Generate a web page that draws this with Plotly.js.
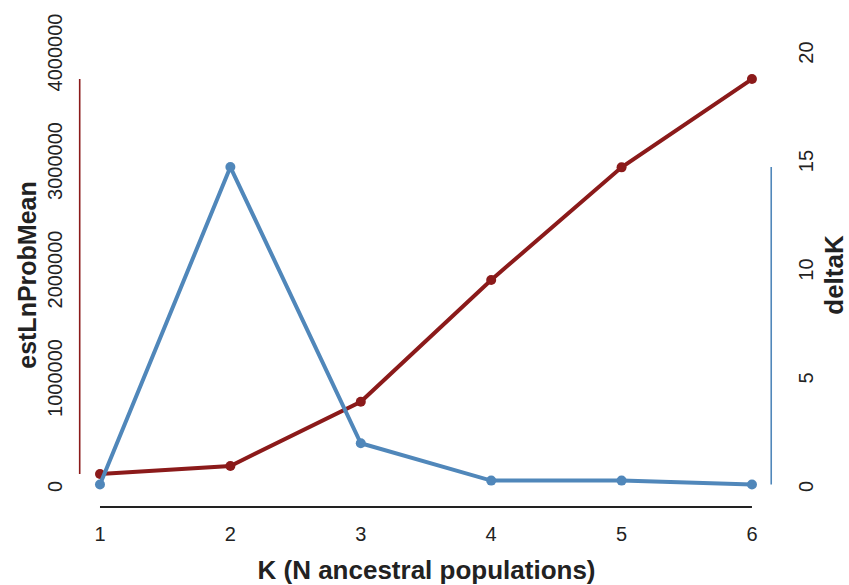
<!DOCTYPE html>
<html>
<head>
<meta charset="utf-8">
<script src="https://cdn.plot.ly/plotly-3.0.1.min.js"></script>
<style>
  html, body { margin: 0; padding: 0; background: #ffffff; }
  #chart { width: 849px; height: 585px; }
</style>
</head>
<body>
<div id="chart"></div>
<script>
// ---- data ----
var K = [1, 2, 3, 4, 5, 6];
var estLnProbMean = [97000, 171000, 763000, 1885000, 2923000, 3737000];
var deltaK = [0, 14.63, 1.90, 0.18, 0.18, 0];
var leftTicks = [0, 1000000, 2000000, 3000000, 4000000];
var rightTicks = [0, 5, 10, 15, 20];
var xTicks = [1, 2, 3, 4, 5, 6];

var RED = '#8B1A1A';
var BLUE = '#5087BA';
var FONT = 'Liberation Sans, Arial, Helvetica, sans-serif';

var traces = [
  {
    x: K, y: estLnProbMean, yaxis: 'y', type: 'scatter', mode: 'lines+markers',
    line: {color: RED, width: 4}, marker: {color: RED, size: 10},
    hoverinfo: 'x+y', showlegend: false
  },
  {
    x: K, y: deltaK, yaxis: 'y2', type: 'scatter', mode: 'lines+markers',
    line: {color: BLUE, width: 4}, marker: {color: BLUE, size: 10},
    hoverinfo: 'x+y', showlegend: false
  }
];

var W = 849, H = 585;
var mL = 79, mR = 75, mT = 40, mB = 75;
var plotH = H - mT - mB;

var layout = {
  width: W, height: H,
  margin: {l: mL, r: mR, t: mT, b: mB, pad: 0},
  paper_bgcolor: '#ffffff', plot_bgcolor: '#ffffff',
  font: {family: FONT, color: '#222222', size: 20},
  xaxis: {
    range: [0.839, 6.169],
    tickvals: xTicks, ticktext: xTicks.map(String),
    showgrid: false, zeroline: false, showline: false, ticks: '',
    ticklabelstandoff: 10,
    tickfont: {family: FONT, size: 20, color: '#222222'},
    title: {text: 'K (N ancestral populations)', standoff: 16,
            font: {family: FONT, size: 26, color: '#222222', weight: 'bold'}}
  },
  yaxis: {
    range: [-235000, 4096800],
    tickvals: leftTicks, tickformat: 'd', tickangle: -90,
    showgrid: false, zeroline: false, showline: false, ticks: '',
    ticklabelstandoff: 12, ticklabelshift: 5,
    tickfont: {family: FONT, size: 20, color: '#222222'},
    title: {text: 'estLnProbMean', standoff: 0,
            font: {family: FONT, size: 25, color: '#222222', weight: 'bold'}}
  },
  yaxis2: {
    range: [-1.175, 20.484],
    overlaying: 'y', side: 'right',
    tickvals: rightTicks, tickangle: -90,
    showgrid: false, zeroline: false, showline: false, ticks: '',
    ticklabelstandoff: 18, ticklabelshift: 5,
    tickfont: {family: FONT, size: 20, color: '#222222'},
    title: {text: 'deltaK', standoff: 16,
            font: {family: FONT, size: 26, color: '#222222', weight: 'bold'}}
  },
  shapes: [
    // range-frame axis lines, spanning the data extent of each series
    {type: 'line', xref: 'paper', yref: 'y', x0: 0.001, x1: 0.001,
     y0: Math.min.apply(null, estLnProbMean), y1: Math.max.apply(null, estLnProbMean),
     line: {color: RED, width: 1.6}},
    {type: 'line', xref: 'paper', yref: 'y2', x0: 0.996, x1: 0.996,
     y0: Math.min.apply(null, deltaK), y1: Math.max.apply(null, deltaK),
     line: {color: BLUE, width: 1.6}},
    {type: 'line', xref: 'x', yref: 'paper', x0: Math.min.apply(null, K), x1: Math.max.apply(null, K),
     y0: 3 / plotH, y1: 3 / plotH,
     line: {color: '#222222', width: 2}}
  ],
  hovermode: false
};

Plotly.newPlot('chart', traces, layout, {displayModeBar: false, staticPlot: true});
</script>
</body>
</html>
